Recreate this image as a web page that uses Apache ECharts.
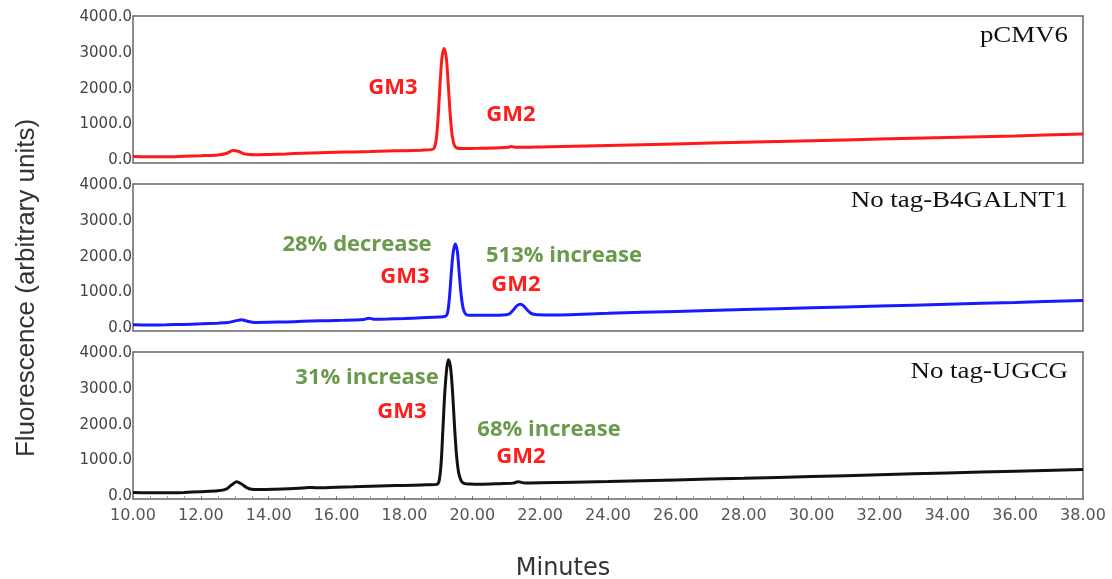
<!DOCTYPE html>
<html>
<head>
<meta charset="utf-8">
<script src="https://cdn.jsdelivr.net/npm/echarts@6/dist/echarts.min.js"></script>
<style>
  html, body { margin: 0; padding: 0; background: #fff; }
  #chart { width: 1112px; height: 579px; }
</style>
</head>
<body>
<div id="chart"></div>
<script>
// panel names and trace colours
var panelNames = ['pCMV6', 'No tag-B4GALNT1', 'No tag-UGCG'];
var traceColors = ['#ff1a1a', '#1a1aff', '#111111'];
var yTicks = [0, 1000, 2000, 3000, 4000];

// [minutes, fluorescence]
var pcmv6 = [
  [10.0, 100], [10.5, 95], [11.0, 95], [11.5, 110], [12.0, 125], [12.5, 145], [12.75, 185],
  [12.95, 270], [13.1, 250], [13.3, 170], [13.6, 150], [14.0, 160], [14.5, 175], [15.0, 195],
  [15.5, 210], [16.0, 220], [16.5, 230], [17.0, 240], [17.5, 255], [18.0, 265], [18.5, 280],
  [18.8, 295], [18.88, 340], [18.94, 600], [19.0, 1300], [19.06, 2300], [19.11, 2900],
  [19.17, 3130], [19.23, 2900], [19.28, 2300], [19.34, 1400], [19.4, 750], [19.47, 420],
  [19.55, 340], [19.7, 325], [20.2, 330], [20.8, 345], [21.05, 360], [21.15, 380],
  [21.3, 360], [22, 370], [24, 410], [26, 455], [28, 500], [30, 545], [32, 590], [34, 635],
  [36, 680], [38, 730]
];
var b4galnt1 = [
  [10.0, 95], [10.5, 90], [11.0, 95], [11.5, 105], [12.0, 120], [12.5, 140], [12.8, 160],
  [13.05, 210], [13.2, 235], [13.35, 200], [13.6, 160], [14.0, 165], [14.5, 175], [15.0, 190],
  [15.5, 205], [16.0, 215], [16.5, 225], [16.8, 240], [16.95, 280], [17.1, 250], [17.5, 255],
  [18.0, 270], [18.5, 290], [19.0, 310], [19.2, 330], [19.27, 420], [19.33, 900],
  [19.39, 1650], [19.44, 2150], [19.5, 2360], [19.56, 2150], [19.61, 1600], [19.67, 950],
  [19.73, 560], [19.8, 400], [19.9, 360], [20.5, 360], [21.0, 375], [21.12, 420],
  [21.22, 520], [21.32, 630], [21.42, 670], [21.52, 620], [21.62, 510], [21.72, 420],
  [21.85, 380], [22.2, 370], [24, 415], [26, 470], [28, 520], [30, 570], [32, 620],
  [34, 670], [36, 720], [38, 775]
];
var ugcg = [
  [10.0, 100], [10.5, 95], [11.0, 95], [11.5, 105], [12.0, 125], [12.5, 150], [12.75, 200],
  [12.9, 310], [13.05, 400], [13.2, 340], [13.35, 240], [13.5, 195], [13.8, 185], [14.2, 195],
  [14.6, 210], [15.0, 225], [15.2, 245], [15.4, 235], [16.0, 250], [16.5, 260], [17.0, 275],
  [17.5, 290], [18.0, 300], [18.5, 315], [18.95, 330], [19.02, 420], [19.08, 900],
  [19.13, 1800], [19.19, 2900], [19.25, 3600], [19.3, 3820], [19.36, 3600], [19.42, 2900],
  [19.48, 1900], [19.54, 1100], [19.6, 650], [19.68, 420], [19.78, 350], [19.9, 340],
  [20.3, 335], [20.8, 350], [21.2, 365], [21.35, 400], [21.55, 370], [22, 375], [24, 410],
  [26, 455], [28, 500], [30, 550], [32, 600], [34, 650], [36, 700], [38, 750]
];
var traces = [pcmv6, b4galnt1, ugcg];

// annotations: [text, colour key, x px, y px]
var notes = [
  ['GM3', 'red', 393, 88], ['GM2', 'red', 511, 115],
  ['28% decrease', 'green', 357, 245], ['GM3', 'red', 405, 277],
  ['513% increase', 'green', 564, 256], ['GM2', 'red', 516, 285],
  ['31% increase', 'green', 367, 378], ['GM3', 'red', 402, 412],
  ['68% increase', 'green', 549, 430], ['GM2', 'red', 521, 457]
];
var noteColors = { red: '#ff1c1c', green: '#6a9a4c' };
var panelTitleY = [36, 201, 372];

var myChart = echarts.init(document.getElementById('chart'));

var grids = [], xAxes = [], yAxes = [], series = [], graphics = [];
var tops = [16, 184, 352];
for (let i = 0; i < 3; i++) {
  let last = i === 2;
  grids.push({
    left: 133, right: 29, top: tops[i], height: 147,
    show: true, borderColor: '#666', borderWidth: 1.5
  });
  xAxes.push({
    type: 'value', gridIndex: i, min: 10, max: 38, interval: 2,
    axisLine: { show: false },
    splitLine: { show: false },
    axisTick: { show: last, length: 4, lineStyle: { color: '#777' } },
    minorTick: { show: last, splitNumber: 4, length: 3, lineStyle: { color: '#999' } },
    axisLabel: {
      show: last, margin: 9, color: '#555', fontSize: 16, fontFamily: 'DejaVu Sans',
      formatter: function (v) { return v.toFixed(2); }
    }
  });
  yAxes.push({
    type: 'value', gridIndex: i, min: -80, max: 4040,
    axisLine: { show: false },
    splitLine: { show: false },
    axisTick: { show: false },
    axisLabel: {
      margin: 1, color: '#444', fontSize: 15, fontFamily: 'DejaVu Sans',
      customValues: yTicks,
      formatter: function (v) { return v.toFixed(1); }
    }
  });
  series.push({
    type: 'line', xAxisIndex: i, yAxisIndex: i,
    data: traces[i], showSymbol: false, smooth: 0.3,
    lineStyle: { color: traceColors[i], width: 3 },
    animation: false
  });
  graphics.push({
    type: 'text', x: 1068, y: panelTitleY[i], scaleX: 1.12,
    style: {
      text: panelNames[i], fill: '#111', fontSize: 24, fontFamily: 'Liberation Serif',
      align: 'right', verticalAlign: 'middle', textAlign: 'right', textVerticalAlign: 'middle'
    }
  });
}

notes.forEach(function (n) {
  graphics.push({
    type: 'text', x: n[2], y: n[3],
    style: {
      text: n[0], fill: noteColors[n[1]], fontSize: 22, fontWeight: 'bold', fontFamily: 'Open Sans',
      align: 'center', verticalAlign: 'middle', textAlign: 'center', textVerticalAlign: 'middle'
    }
  });
});

// axis titles
graphics.push({
  type: 'text', x: 27, y: 288, rotation: Math.PI / 2,
  style: {
    text: 'Fluorescence (arbitrary units)', fill: '#333', fontSize: 26, fontFamily: 'Liberation Sans',
    align: 'center', verticalAlign: 'middle', textAlign: 'center', textVerticalAlign: 'middle'
  }
});
graphics.push({
  type: 'text', x: 563, y: 569,
  style: {
    text: 'Minutes', fill: '#333', fontSize: 24, fontFamily: 'DejaVu Sans',
    align: 'center', verticalAlign: 'middle', textAlign: 'center', textVerticalAlign: 'middle'
  }
});

myChart.setOption({
  animation: false,
  grid: grids,
  xAxis: xAxes,
  yAxis: yAxes,
  series: series,
  graphic: graphics
});
</script>
</body>
</html>
